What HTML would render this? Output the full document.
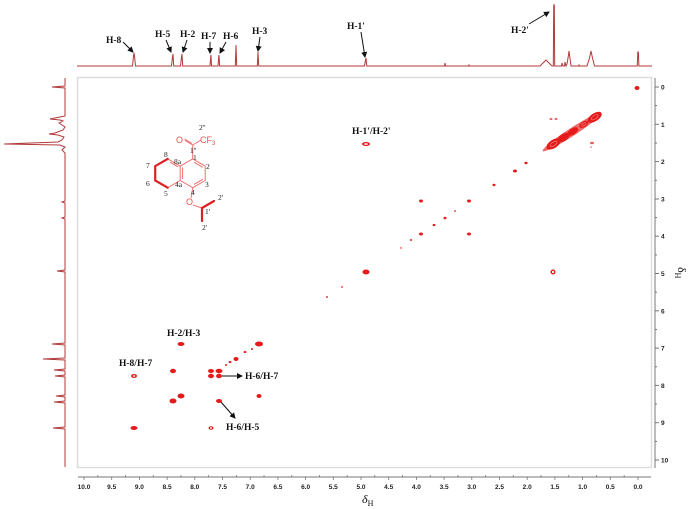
<!DOCTYPE html>
<html><head><meta charset="utf-8"><style>
html,body{margin:0;padding:0;background:#fff;}
svg{display:block;}
.lb{font-family:"Liberation Serif",serif;font-weight:bold;font-size:9.5px;fill:#111;}
.tk{font-family:"Liberation Sans",sans-serif;font-weight:bold;font-size:6.5px;fill:#222;}
.st{font-family:"Liberation Serif",serif;font-size:7.5px;fill:#222;}
</style></head><body>
<svg width="700" height="509" viewBox="0 0 700 509" xmlns="http://www.w3.org/2000/svg">
<defs>
<marker id="ah" markerWidth="6" markerHeight="6" refX="5" refY="3" orient="auto" markerUnits="userSpaceOnUse">
<path d="M0,0 L6,3 L0,6 z" fill="#111"/></marker>
</defs>
<rect width="700" height="509" fill="#fff"/>

<!-- frame -->
<rect x="77.5" y="77.5" width="574" height="390" fill="none" stroke="#dedede" stroke-width="1.5"/>

<!-- top 1D spectrum -->
<g fill="none" stroke="#b23a3a" stroke-width="1">
<path d="M77,66 L132.5,66 L133.5,56 L134,53 L134.5,56 L135.5,66 L171.5,66 L172.5,57 L173,54 L173.7,66 L180.5,66 L181.5,57 L182,54 L182.7,66 L210,66 L210.7,57 L211,55 L211.5,66 L218,66 L218.7,57 L219,55 L219.6,66 L235.3,66 L236,45 L236.7,66 L257.3,66 L258,52 L258.7,66 L364.5,66 L365.5,60 L366,58 L366.8,66 L444.5,66 L445,63 L445.5,66 L468.5,66 L469,65 L469.5,66 L540,66 L544,62 L546,60 L548,62 L552,66 L553.3,66 L553.7,5 L554.3,5 L554.7,66 L561.5,66 L562,63 L563,66 L564.5,66 L565,62 L566,66 L567,64 L568.5,55 L569,51 L569.8,57 L571,66 L578.5,66 L579,65 L579.5,66 L587,66 L589.5,58 L591,51 L592.5,58 L594.5,66 L637.3,66 L637.8,52 L638.4,52 L638.9,66 L652,66"/>
</g>

<!-- left 1D spectrum -->
<g fill="none" stroke="#b23a3a" stroke-width="1">
<path d="M65,78 L65,86 L52,87 L65,88 L65,116 L60,117 L50,119 L60,120 L63,121 L59,123 L62,125 L65,127 L63,130 L55,133 L49,134 L58,135 L64,137 L62,140 L58,142 L4,144 L60,145 L65,147 L62,150 L65,153 L65,201 L62,202 L65,203 L65,217 L62,218 L65,219 L65,270 L57,271 L65,272 L65,343 L52,344 L65,345 L65,358 L43,359 L65,360 L65,369 L54,370 L65,371 L65,375 L55,376 L65,377 L65,395 L56,396 L65,397 L65,401 L54,402 L65,403 L65,427 L53,428 L65,429 L65,467"/>
</g>

<!-- right axis -->
<g stroke="#777" stroke-width="1">
<line x1="655" y1="78" x2="655" y2="468"/>
<line x1="655" y1="87" x2="659" y2="87"/><line x1="655" y1="105.6" x2="657" y2="105.6"/>
<line x1="655" y1="124.3" x2="659" y2="124.3"/><line x1="655" y1="143" x2="657" y2="143"/>
<line x1="655" y1="161.6" x2="659" y2="161.6"/><line x1="655" y1="180.3" x2="657" y2="180.3"/>
<line x1="655" y1="199" x2="659" y2="199"/><line x1="655" y1="217.6" x2="657" y2="217.6"/>
<line x1="655" y1="236.2" x2="659" y2="236.2"/><line x1="655" y1="254.9" x2="657" y2="254.9"/>
<line x1="655" y1="273.5" x2="659" y2="273.5"/><line x1="655" y1="292.2" x2="657" y2="292.2"/>
<line x1="655" y1="310.8" x2="659" y2="310.8"/><line x1="655" y1="329.5" x2="657" y2="329.5"/>
<line x1="655" y1="348.1" x2="659" y2="348.1"/><line x1="655" y1="366.8" x2="657" y2="366.8"/>
<line x1="655" y1="385.4" x2="659" y2="385.4"/><line x1="655" y1="404.1" x2="657" y2="404.1"/>
<line x1="655" y1="422.7" x2="659" y2="422.7"/><line x1="655" y1="441.4" x2="657" y2="441.4"/>
<line x1="655" y1="460" x2="659" y2="460"/>
</g>
<g class="tk">
<text x="661" y="89.5">0</text><text x="661" y="126.8">1</text><text x="661" y="164.1">2</text>
<text x="661" y="201.5">3</text><text x="661" y="238.7">4</text><text x="661" y="276">5</text>
<text x="661" y="313.3">6</text><text x="661" y="350.6">7</text><text x="661" y="387.9">8</text>
<text x="661" y="425.2">9</text><text x="661" y="462.5">10</text>
</g>
<text transform="translate(678,267) rotate(90)" style="font-family:'Liberation Serif',serif;font-size:12px;fill:#111;">δ<tspan font-size="8" dy="3">H</tspan></text>

<!-- bottom axis -->
<g stroke="#777" stroke-width="1">
<line x1="78" y1="477" x2="651" y2="477"/>
</g>
<g stroke="#777" stroke-width="0.8">
<path d="M84,477v3M97.85,477v-2M111.7,477v3M125.55,477v-2M139.4,477v3M153.25,477v-2M167.1,477v3M180.95,477v-2M194.8,477v3M208.65,477v-2M222.5,477v3M236.35,477v-2M250.2,477v3M264.05,477v-2M277.9,477v3M291.75,477v-2M305.6,477v3M319.45,477v-2M333.3,477v3M347.15,477v-2M361,477v3M374.85,477v-2M388.7,477v3M402.55,477v-2M416.4,477v3M430.25,477v-2M444.1,477v3M457.95,477v-2M471.8,477v3M485.65,477v-2M499.5,477v3M513.35,477v-2M527.2,477v3M541.05,477v-2M554.9,477v3M568.75,477v-2M582.6,477v3M596.45,477v-2M610.3,477v3M624.15,477v-2M638,477v3"/>
</g>
<g class="tk" text-anchor="middle">
<text x="84" y="489">10.0</text><text x="111.7" y="489">9.5</text><text x="139.4" y="489">9.0</text>
<text x="167.1" y="489">8.5</text><text x="194.8" y="489">8.0</text><text x="222.5" y="489">7.5</text>
<text x="250.2" y="489">7.0</text><text x="277.9" y="489">6.5</text><text x="305.6" y="489">6.0</text>
<text x="333.3" y="489">5.5</text><text x="361" y="489">5.0</text><text x="388.7" y="489">4.5</text>
<text x="416.4" y="489">4.0</text><text x="444.1" y="489">3.5</text><text x="471.8" y="489">3.0</text>
<text x="499.5" y="489">2.5</text><text x="527.2" y="489">2.0</text><text x="554.9" y="489">1.5</text>
<text x="582.6" y="489">1.0</text><text x="610.3" y="489">0.5</text><text x="638" y="489">0.0</text>
</g>
<text x="362" y="503" style="font-family:'Liberation Serif',serif;font-style:italic;font-size:12px;fill:#111;">δ<tspan font-style="normal" font-size="8" dy="3">H</tspan></text>

<!-- top labels & arrows -->
<g class="lb">
<text x="106" y="43">H-8</text><text x="155" y="37">H-5</text><text x="180" y="37">H-2</text>
<text x="201" y="39">H-7</text><text x="223" y="39">H-6</text><text x="252" y="34">H-3</text>
<text x="347" y="29">H-1'</text><text x="511" y="33">H-2'</text>
</g>
<g stroke="#111" stroke-width="1" marker-end="url(#ah)">
<line x1="123" y1="42" x2="133" y2="52"/>
<line x1="166" y1="40" x2="171" y2="52"/>
<line x1="187" y1="40" x2="183" y2="52"/>
<line x1="210" y1="42" x2="210" y2="53"/>
<line x1="226" y1="42" x2="220" y2="53"/>
<line x1="260" y1="37" x2="258" y2="51"/>
<line x1="361" y1="32" x2="365" y2="57"/>
<line x1="529" y1="24" x2="549" y2="12"/>
</g>

<!-- 2D labels -->
<g class="lb">
<text x="352" y="134">H-1'/H-2'</text>
<text x="167" y="336">H-2/H-3</text>
<text x="119" y="366">H-8/H-7</text>
<text x="245" y="379">H-6/H-7</text>
<text x="226" y="430">H-6/H-5</text>
</g>
<g stroke="#111" stroke-width="1" marker-end="url(#ah)">
<line x1="222" y1="376" x2="242" y2="376"/>
<line x1="221" y1="402" x2="235" y2="418"/>
</g>

<!-- cross peaks -->
<g fill="#e51b1b">
<ellipse cx="134" cy="376" rx="3" ry="2"/>
<ellipse cx="134" cy="428" rx="3.5" ry="2"/>
<ellipse cx="173" cy="371" rx="3" ry="2.2"/>
<ellipse cx="181" cy="344" rx="3.5" ry="2"/>
<ellipse cx="173" cy="401" rx="3.5" ry="2.5"/>
<ellipse cx="181" cy="396" rx="3.5" ry="2.5"/>
<ellipse cx="211" cy="371" rx="3" ry="2"/>
<ellipse cx="219" cy="371" rx="3.5" ry="2.2"/>
<ellipse cx="211" cy="376" rx="3" ry="2.2"/>
<ellipse cx="219" cy="376" rx="3" ry="2.2"/>
<ellipse cx="211" cy="428" rx="2.5" ry="1.8"/>
<ellipse cx="219" cy="401" rx="3" ry="2"/>
<ellipse cx="259" cy="344" rx="4" ry="2.5"/>
<ellipse cx="259" cy="396" rx="2.5" ry="2"/>
<ellipse cx="236" cy="359" rx="2.5" ry="2"/>
<ellipse cx="230" cy="362" rx="1.5" ry="1"/>
<ellipse cx="226" cy="365" rx="1" ry="1"/>
<ellipse cx="245" cy="352" rx="1.5" ry="1"/>
<ellipse cx="252" cy="349" rx="1" ry="1"/>
<ellipse cx="366" cy="144" rx="4" ry="2"/>
<ellipse cx="366" cy="272" rx="3.5" ry="2.5"/>
<ellipse cx="342" cy="287" rx="1" ry="0.8"/>
<ellipse cx="327" cy="297" rx="1.2" ry="0.8"/>
<ellipse cx="401" cy="248" rx="0.8" ry="0.7"/>
<ellipse cx="411" cy="240" rx="1.2" ry="0.9"/>
<ellipse cx="421" cy="234" rx="2" ry="1.5"/>
<ellipse cx="469" cy="234" rx="2" ry="1.5"/>
<ellipse cx="434" cy="225" rx="1.4" ry="1.1"/>
<ellipse cx="445" cy="218" rx="1.5" ry="1.3"/>
<ellipse cx="455" cy="211" rx="1" ry="0.8"/>
<ellipse cx="421" cy="201" rx="2" ry="1.5"/>
<ellipse cx="469" cy="201" rx="2" ry="1.5"/>
<ellipse cx="494" cy="185" rx="1.5" ry="1.2"/>
<ellipse cx="515" cy="171" rx="2" ry="1.5"/>
<ellipse cx="526" cy="163" rx="1.6" ry="1.2"/>
<ellipse cx="551" cy="119" rx="1.5" ry="1" opacity="0.7"/>
<ellipse cx="556" cy="119" rx="1.5" ry="1" opacity="0.7"/>
<ellipse cx="592" cy="143" rx="2" ry="1.2" opacity="0.7"/>
<ellipse cx="591" cy="147" rx="0.8" ry="0.8" opacity="0.7"/>
<ellipse cx="553" cy="272" rx="2.5" ry="2.5"/>
<ellipse cx="637" cy="88" rx="2.5" ry="2"/>
</g>
<g fill="#fff">
<ellipse cx="134" cy="376" rx="1.3" ry="0.8"/>
<ellipse cx="211" cy="428" rx="1.1" ry="0.7"/>
<ellipse cx="366" cy="144" rx="2" ry="0.8"/>
<ellipse cx="553" cy="272" rx="1.1" ry="1.1"/>
</g>
<!-- diagonal blob -->
<g fill="#e51b1b" transform="rotate(-33 572 132)">
<ellipse cx="572" cy="132" rx="35" ry="4" fill="#f06a6a"/>
<ellipse cx="550" cy="132" rx="8" ry="4.2"/>
<ellipse cx="562" cy="132" rx="7" ry="3.6"/>
<ellipse cx="573" cy="132" rx="6" ry="3.2"/>
<ellipse cx="586" cy="132" rx="5" ry="2.8"/>
<ellipse cx="599" cy="132" rx="8" ry="4"/>
</g>
<g fill="none" stroke="#f7a0a0" stroke-width="0.5" transform="rotate(-33 572 132)">
<ellipse cx="550" cy="132" rx="4" ry="1.8"/>
<ellipse cx="586" cy="132" rx="2.5" ry="1.2"/>
<ellipse cx="599" cy="132" rx="4" ry="1.8"/>
</g>

<!-- molecule -->
<g fill="none" stroke="#f07070" stroke-width="1">
<path d="M192.7,158.9 L205.2,166.1 L205.2,180.5 L192.7,187.7 L180.2,180.5 L180.2,166.1 Z"/>
<path d="M167.7,158.9 L180.2,166.1 M180.2,180.5 L167.7,187.7"/>
<path d="M194,162.2 L202.8,167.3 M202.8,179.3 L194,184.4 M170,162.2 L178,166.8 M182.6,167.5 L182.6,179.1"/>
<path d="M192.7,158.9 L192.7,145 L201,140 M192.7,145 L185,140.5 M191.7,143.3 L184.5,139"/>
<path d="M192.7,187.7 L191,198"/>
<path d="M193,205 L202,208"/>
</g>
<g fill="none" stroke="#e02020" stroke-width="2.2" stroke-linecap="round">
<path d="M167.7,158.9 L155.2,166.1 L155.2,180.5 L167.7,187.7"/>
<path d="M202,208 L214,201 M202,208 L202,221"/>
</g>
<g style="font-family:'Liberation Sans',sans-serif;font-size:9px;fill:#f05050;">
<text x="176" y="143">O</text>
<text x="200" y="143">CF<tspan font-size="6" dy="2">3</tspan></text>
<text x="186" y="205">O</text>
</g>
<g class="st">
<text x="199" y="130">2''</text>
<text x="190" y="153">1''</text>
<text x="164" y="157">8</text>
<text x="146" y="168">7</text>
<text x="146" y="186">6</text>
<text x="164" y="196">5</text>
<text x="174" y="164">8a</text>
<text x="175" y="187">4a</text>
<text x="193" y="160">1</text>
<text x="206" y="169">2</text>
<text x="205" y="187">3</text>
<text x="191" y="195">4</text>
<text x="218" y="200">2'</text>
<text x="205" y="214">1'</text>
<text x="202" y="230">2'</text>
</g>
</svg>
</body></html>
